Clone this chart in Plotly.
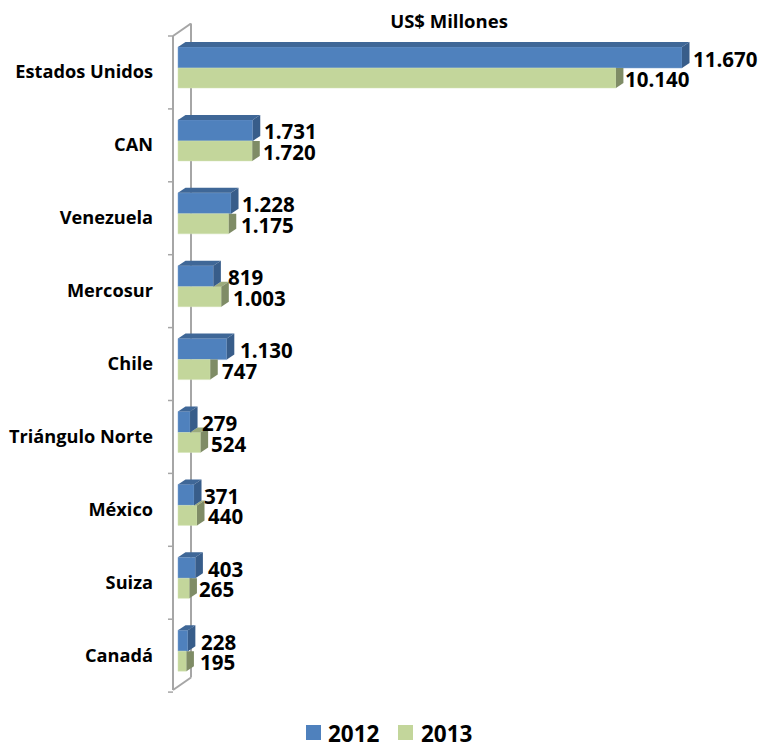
import plotly.graph_objects as go

categories = ["Estados Unidos", "CAN", "Venezuela", "Mercosur", "Chile",
              "Triángulo Norte", "México", "Suiza", "Canadá"]
values_2012 = [11670, 1731, 1228, 819, 1130, 279, 371, 403, 228]
values_2013 = [10140, 1720, 1175, 1003, 747, 524, 440, 265, 195]

W, H = 759, 742
L, T, R, B = 160, 23, 759, 742
X0 = 178
PX_PER_VALUE = 504 / 11670
Y0, PX_PER_SLOT = 72, 72.9
FONT = "Open Sans"

# label placement tweaks, px
nudge_2012 = [0, 0, 0, 4, 2, 1, -1, 2, 2]
nudge_2013 = [-2, 0, 1, 1, 1, -1, 0, -1, 3]

def dx(px):
    return px / PX_PER_VALUE
def dy(px):
    return px / PX_PER_SLOT

BLUE, BLUE_TOP, BLUE_SIDE = "#4f81bd", "#3f6797", "#385d8a"
GREEN, GREEN_TOP, GREEN_SIDE = "#c3d69b", "#9cab7c", "#7f8c66"
AXIS = "#a6a6a6"

idx = list(range(len(categories)))
DEPTH_X, DEPTH_Y = dx(7.5), dy(5)
BLUE_OFF, MID_OFF, GREEN_OFF = dy(-25), dy(-4), dy(16)

fig = go.Figure()
fig.add_bar(y=idx, x=values_2012, orientation="h", base=0, offset=BLUE_OFF, width=MID_OFF - BLUE_OFF, name="2012",
            marker=dict(color=BLUE, line=dict(color="#7fa3cf", width=0.5)), showlegend=False, hoverinfo="skip")
fig.add_bar(y=idx, x=values_2013, orientation="h", base=0, offset=MID_OFF, width=GREEN_OFF - MID_OFF, name="2013",
            marker=dict(color=GREEN, line=dict(color="#d3e2b5", width=0.5)), showlegend=False, hoverinfo="skip")

def poly(xs, ys, color):
    fig.add_scatter(x=xs + xs[:1], y=ys + ys[:1], mode="lines", fill="toself", fillcolor=color,
                    line=dict(width=0), showlegend=False, hoverinfo="skip")

for i, a, b in zip(idx, values_2012, values_2013):
    top, mid, bot = i + BLUE_OFF, i + MID_OFF, i + GREEN_OFF
    if b > a:
        poly([a, b, b + DEPTH_X, a + DEPTH_X], [mid, mid, mid - DEPTH_Y, mid - DEPTH_Y], GREEN_TOP)
        poly([b, b + DEPTH_X, b + DEPTH_X, b], [mid, mid - DEPTH_Y, bot - DEPTH_Y, bot], GREEN_SIDE)
    else:
        poly([b, b + DEPTH_X, b + DEPTH_X, b], [mid, mid, bot - DEPTH_Y, bot], GREEN_SIDE)
    poly([0, a, a + DEPTH_X, DEPTH_X], [top, top, top - DEPTH_Y, top - DEPTH_Y], BLUE_TOP)
    poly([a, a + DEPTH_X, a + DEPTH_X, a], [top, top - DEPTH_Y, mid - DEPTH_Y, mid], BLUE_SIDE)

annotations = []

# legend keys and names, below the axis frame
for name, color, key_px, text_px in (("2012", BLUE, 313.5, 328), ("2013", GREEN, 405.5, 421)):
    fig.add_scatter(x=[dx(key_px - X0)], y=[(732.5 - Y0) / PX_PER_SLOT], mode="markers", name=name,
                    marker=dict(symbol="square", size=15, color=color), showlegend=False, hoverinfo="skip")
    annotations.append(dict(x=dx(text_px - X0), y=(733 - Y0) / PX_PER_SLOT, text=name, showarrow=False,
                            xanchor="left", yanchor="middle", xshift=-2,
                            font=dict(family=FONT, size=22.5, color="#000000", weight=700)))

ax_left, ax_back = dx(173 - X0), dx(191 - X0)
ytop, ybot = (36 - Y0) / PX_PER_SLOT, (690 - Y0) / PX_PER_SLOT
ydepth = dy(12.5)
line = dict(color=AXIS, width=2)
shapes = [
    dict(type="line", x0=ax_left, x1=ax_left, y0=ytop, y1=ybot, line=line),
    dict(type="line", x0=ax_back, x1=ax_back, y0=ytop - ydepth, y1=ybot - ydepth, line=line),
    dict(type="line", x0=ax_left, x1=ax_back, y0=ytop, y1=ytop - ydepth, line=line),
    dict(type="line", x0=ax_left, x1=ax_back, y0=ybot, y1=ybot - ydepth, line=line),
]
for k in range(len(categories) + 1):
    yt = ytop + k
    shapes.append(dict(type="line", x0=dx(168 - X0), x1=ax_left, y0=yt, y1=yt, line=dict(color=AXIS, width=1.5)))
for s in shapes:
    s["layer"] = "below"

def fmt(v):
    return f"{v:,}".replace(",", ".")

for i in idx:
    pairs = ((values_2012[i], nudge_2012[i], (BLUE_OFF + MID_OFF) / 2 + dy(1)),
             (values_2013[i], nudge_2013[i], (MID_OFF + GREEN_OFF) / 2 + dy(1)))
    for v, n, off in pairs:
        annotations.append(dict(x=v, y=i + off, text=fmt(v), showarrow=False, xanchor="left", yanchor="middle",
                                xshift=9 + n, font=dict(family=FONT, size=20.5, color="#000000", weight=700)))

fig.update_layout(
    width=W, height=H, margin=dict(l=L, r=W - R, t=T, b=H - B, pad=0),
    paper_bgcolor="#ffffff", plot_bgcolor="rgba(0,0,0,0)",
    barmode="overlay", shapes=shapes, annotations=annotations, showlegend=False,
    title=dict(text="US$ Millones", x=449 / W, xref="container", xanchor="center",
               y=1 - 22 / H, yref="container", yanchor="middle",
               font=dict(family=FONT, size=18.5, color="#000000", weight=700)),
    xaxis=dict(range=[dx(L - X0), dx(R - X0)], visible=False, fixedrange=True),
    yaxis=dict(range=[(B - Y0) / PX_PER_SLOT, (T - Y0) / PX_PER_SLOT], tickmode="array", tickvals=idx, ticktext=categories,
               showgrid=False, zeroline=False, showline=False, ticks="", ticklabelstandoff=6, fixedrange=True,
               tickfont=dict(family=FONT, size=18.2, color="#000000", weight=700)),
)
fig.write_html("out.html", config={"displayModeBar": False}, post_script="document.body.style.margin='0';")
